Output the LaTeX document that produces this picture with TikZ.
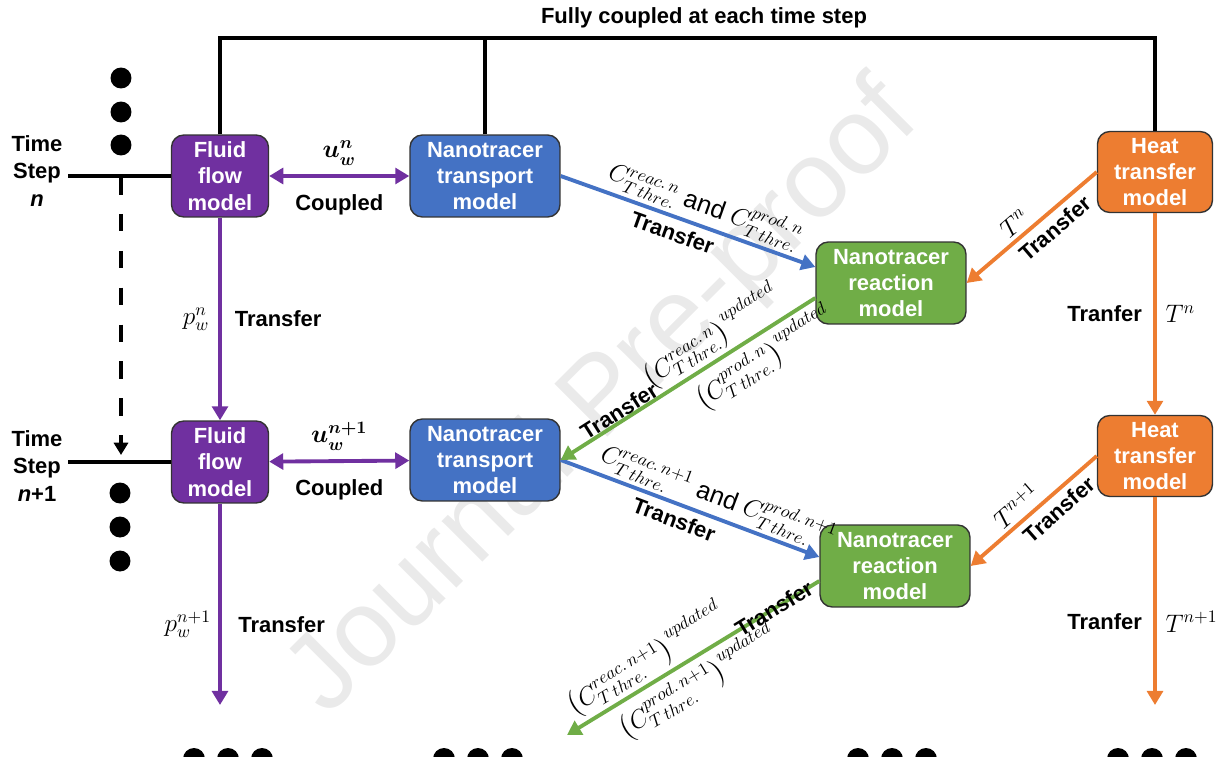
\documentclass[tikz,border=0pt]{standalone}
\usepackage{amsmath,amssymb}
\usepackage{fontspec}
\setmainfont{Liberation Sans}
\usepackage{tikz}
\usetikzlibrary{arrows.meta}
\usepackage{xcolor}
\definecolor{flowpurple}{HTML}{7030A0}
\definecolor{transportblue}{HTML}{4472C4}
\definecolor{reactiongreen}{HTML}{70AD47}
\definecolor{heatorange}{HTML}{ED7D31}
\definecolor{markgray}{HTML}{EAEAEA}

\tikzset{
  model/.style={draw=black!80,line width=0.8pt,rounded corners=7pt,text=white,align=center,
    inner sep=1pt,minimum height=1.64cm,font=\fontsize{12.5}{15}\selectfont\bfseries},
  fluidbox/.style={model,fill=flowpurple,minimum width=1.94cm},
  transportbox/.style={model,fill=transportblue,minimum width=3cm},
  reactionbox/.style={model,fill=reactiongreen,minimum width=3cm},
  heatbox/.style={model,fill=heatorange,minimum width=2.3cm,minimum height=1.62cm},
  lbl/.style={font=\fontsize{12.5}{15}\selectfont\bfseries},
  mlbl/.style={font=\fontsize{14.5}{17}\selectfont,inner sep=2pt},
  tipend/.style={-{Triangle[width=9pt,length=8pt]}},
  tipstart/.style={{Triangle[width=9pt,length=8pt]}-},
  tipboth/.style={{Triangle[width=9pt,length=8pt]}-{Triangle[width=9pt,length=8pt]}},
  blackline/.style={draw=black,line width=2.2pt},
  flowline/.style={draw=flowpurple,line width=2.2pt},
  transline/.style={draw=transportblue,line width=2.2pt},
  reacline/.style={draw=reactiongreen,line width=2.2pt},
  heatline/.style={draw=heatorange,line width=2.2pt}
}

\begin{document}
\begin{tikzpicture}[x=0.02cm,y=-0.02cm]
  \clip (0,0) rectangle (1225,757);

  % watermark
  \node[rotate=45,text=markgray,font=\fontsize{62}{62}\selectfont] (mark) at (605,400) {Journal Pre-proof};

  \node[lbl] (title) at (704,18) {Fully coupled at each time step};

  % time step n
  \node[fluidbox] (fl1) at (220,176) {Fluid\\flow\\model};
  \node[transportbox] (tr1) at (485,176) {Nanotracer\\transport\\model};
  \node[reactionbox] (re1) at (891,283) {Nanotracer\\reaction\\model};
  \node[heatbox] (ht1) at (1155,172) {Heat\\transfer\\model};

  % time step n+1
  \node[fluidbox] (fl2) at (220,462) {Fluid\\flow\\model};
  \node[transportbox] (tr2) at (485,460) {Nanotracer\\transport\\model};
  \node[reactionbox] (re2) at (895,566) {Nanotracer\\reaction\\model};
  \node[heatbox] (ht2) at (1155,456) {Heat\\transfer\\model};

  \node[lbl,align=center,font=\fontsize{12.5}{15.5}\selectfont\bfseries,inner sep=3pt] (ts1) at (37,171) {Time\\Step\\\textit{n}};
  \node[lbl,align=center,font=\fontsize{12.5}{15.5}\selectfont\bfseries,inner sep=3pt] (ts2) at (37,466) {Time\\Step\\\textit{n}+1};

  \coordinate (topbar) at (220,38);
  \coordinate (dtop) at (121,177);
  \coordinate (dbot) at (121,455);
  \coordinate (flend) at (220,705);
  \coordinate (htend) at (1155,705);
  \coordinate (grend) at (567,735);

  \draw[blackline] (fl1.north) -- (fl1.north |- topbar) -| (ht1.north);
  \draw[blackline] (tr1.north) -- (tr1.north |- topbar);
  \draw[blackline] (ts1.east |- fl1) -- (fl1);
  \draw[blackline] (ts2.east |- fl2) -- (fl2);
  \draw[blackline,dash pattern=on 10pt off 11pt,-{Triangle[width=8pt,length=7pt]}] (dtop) -- (dbot);

  \foreach \cy in {78,112,145} \fill (121,\cy) circle (0.21cm);
  \foreach \cy in {493,527,561} \fill (120,\cy) circle (0.21cm);
  \foreach \cx in {228,478,892,1152}
    \foreach \d in {-34,0,34} \fill (\cx+\d,759) circle (0.22cm);

  % fluid flow
  \draw[flowline,tipboth] (fl1) -- (tr1)
    node[mlbl,midway,above=3pt] {$\boldsymbol{u_w^n}$}
    node[lbl,midway,below=6pt] {Coupled};
  \draw[flowline,tipboth] (fl2) -- (tr2)
    node[mlbl,midway,above=3pt] {$\boldsymbol{u_w^{n+1}}$}
    node[lbl,midway,below=6pt] {Coupled};
  \draw[flowline,tipend] (fl1) -- (fl2)
    node[mlbl,pos=0.5,left=3pt] {$p_w^n$}
    node[lbl,pos=0.5,right=4pt] {Transfer};
  \draw[flowline,tipend] (fl2) -- (flend)
    node[mlbl,pos=0.6,left=2pt] {$p_w^{n+1}$}
    node[lbl,pos=0.6,right=6pt] {Transfer};

  % nanotracer transport -> reaction
  \draw[transline,tipend] (tr1.east) -- ([yshift=0.32cm]re1.west)
    node[mlbl,sloped,pos=0.54,above] {$C^{reac.\,n}_{T\,thre.}$ and $C^{prod.\,n}_{T\,thre.}$}
    node[lbl,sloped,pos=0.46,below] {Transfer};
  \draw[transline,tipend] (tr2.east) -- ([yshift=0.18cm]re2.west)
    node[mlbl,sloped,pos=0.58,above] {$C^{reac.\,n+1}_{T\,thre.}$ and $C^{prod.\,n+1}_{T\,thre.}$}
    node[lbl,sloped,pos=0.46,below] {Transfer};

  % reaction -> transport
  \draw[reacline,tipstart] (tr2.east) -- ([yshift=-0.3cm]re1.west)
    node[mlbl,sloped,pos=0.64,above] {$\bigl(C^{reac.\,n}_{T\,thre.}\bigr)^{updated}$}
    node[mlbl,sloped,pos=0.75,below] {$\bigl(C^{prod.\,n}_{T\,thre.}\bigr)^{updated}$}
    node[lbl,sloped,pos=0.25,above,inner sep=0pt] {Transfer};
  \draw[reacline,tipstart] (grend) -- ([yshift=-0.3cm]re2.west)
    node[mlbl,sloped,pos=0.36,above] {$\bigl(C^{reac.\,n+1}_{T\,thre.}\bigr)^{updated}$}
    node[mlbl,sloped,pos=0.47,below] {$\bigl(C^{prod.\,n+1}_{T\,thre.}\bigr)^{updated}$}
    node[lbl,sloped,pos=0.82] {Transfer};

  % heat transfer
  \draw[heatline,tipstart] (re1.east) -- (ht1.west)
    node[mlbl,sloped,pos=0.44,above] {$T^n$}
    node[lbl,sloped,pos=0.6,below] {Transfer};
  \draw[heatline,tipstart] (re2.east) -- (ht2.west)
    node[mlbl,sloped,pos=0.44,above] {$T^{n+1}$}
    node[lbl,sloped,pos=0.62,below] {Transfer};
  \draw[heatline,tipend] (ht1) -- (ht2)
    node[lbl,pos=0.5,left=3pt] {Tranfer}
    node[mlbl,pos=0.5,right=3pt] {$T^n$};
  \draw[heatline,tipend] (ht2) -- (htend)
    node[lbl,pos=0.6,left=3pt] {Tranfer}
    node[mlbl,pos=0.6,right=3pt] {$T^{n+1}$};
\end{tikzpicture}
\end{document}
